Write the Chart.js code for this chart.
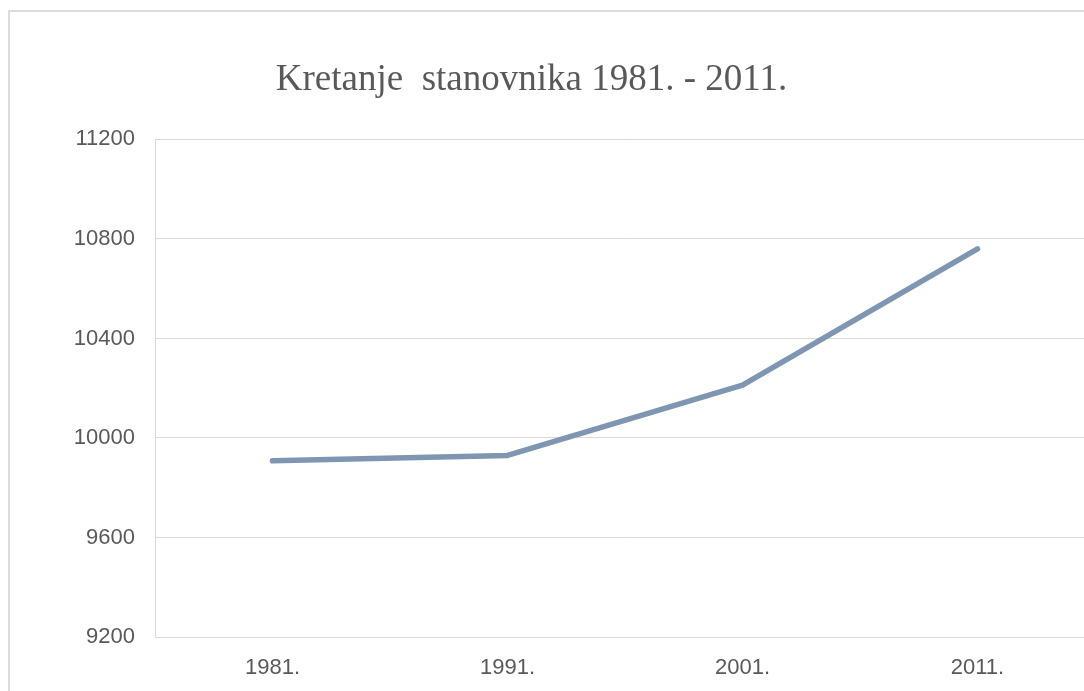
<!DOCTYPE html>
<html>
<head>
<meta charset="utf-8">
<script src="https://cdn.jsdelivr.net/npm/chart.js@4"></script>
<style>
  html, body { margin: 0; background: #fff; overflow: hidden; }
  #frame { position: absolute; left: 8px; top: 10px; width: 1200px; height: 800px; border: 2px solid #dcdcdc; }
  #chart { position: absolute; left: -32px; top: 0; }
</style>
</head>
<body>
<div id="frame"></div>
<canvas id="chart" width="1132" height="691"></canvas>
<script>
const chartTitle = 'Kretanje  stanovnika 1981. - 2011.'
const years = ['1981.', '1991.', '2001.', '2011.']
const population = [9908, 9930, 10212, 10760]
const yMin = 9200
const yMax = 11200
const yStep = 400

const textColor = '#595959'
const gridColor = '#d9d9d9'

let ctx = document.getElementById('chart')
let chart = new Chart(ctx, {
  type: 'line',
  data: {
    labels: years,
    datasets: [{
      data: population,
      borderColor: '#7f96b3',
      borderWidth: 5.5,
      borderCapStyle: 'round',
      borderJoinStyle: 'round',
      pointRadius: 0,
      tension: 0,
      fill: false,
    }],
  },
  options: {
    responsive: false,
    animation: false,
    layout: {
      padding: { left: 0, right: 5, top: 0, bottom: 0 },
    },
    plugins: {
      legend: { display: false },
      tooltip: { enabled: false },
      title: {
        display: true,
        text: chartTitle,
        color: textColor,
        font: { family: '"Liberation Serif", serif', size: 37, weight: 'normal' },
        padding: { top: 58, bottom: 37 },
      },
    },
    scales: {
      x: {
        offset: true,
        afterFit: (scale) => { scale.height = 54 },
        grid: { display: false, drawTicks: false },
        border: { display: false },
        ticks: {
          color: textColor,
          padding: 18,
          font: { family: '"Liberation Sans", sans-serif', size: 22 },
        },
      },
      y: {
        min: yMin,
        max: yMax,
        afterFit: (scale) => { scale.width = 187 },
        grid: { color: gridColor, drawTicks: false },
        border: { display: true, color: gridColor },
        ticks: {
          stepSize: yStep,
          color: textColor,
          padding: 20,
          font: { family: '"Liberation Sans", sans-serif', size: 22 },
          callback: (v) => String(v),
        },
      },
    },
  },
})
</script>
</body>
</html>
